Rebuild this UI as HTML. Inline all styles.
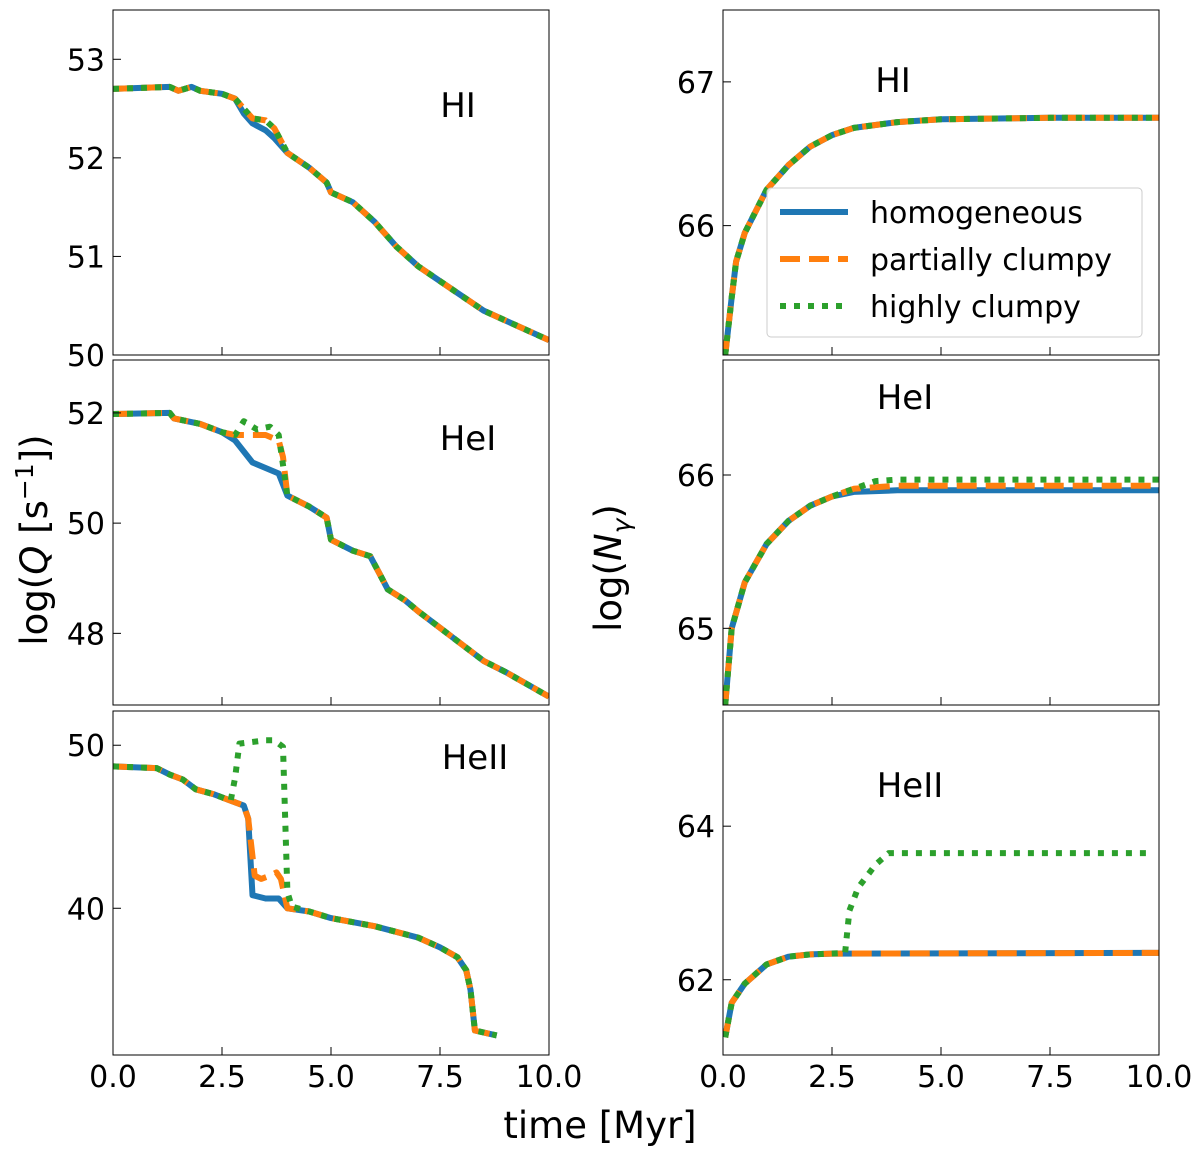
<!DOCTYPE html>
<html><head><meta charset="utf-8"><style>
body{margin:0;background:#fff}
svg text{font-family:"DejaVu Sans","Liberation Sans",sans-serif;fill:#000}
</style></head><body>
<svg id="c" width="1200" height="1157" xmlns="http://www.w3.org/2000/svg"></svg>
<script>
// ---- data ----
const hiL_h = [[0,52.7],[1.3,52.72],[1.5,52.68],[1.8,52.72],[2.0,52.68],[2.5,52.65],[2.8,52.6],[3.0,52.45],[3.2,52.35],[3.5,52.28],[3.7,52.2],[4.0,52.05],[4.5,51.9],[4.9,51.75],[5.0,51.65],[5.5,51.55],[6.0,51.35],[6.5,51.1],[7.0,50.9],[7.5,50.75],[8.0,50.6],[8.5,50.45],[9.0,50.35],[10,50.15]];
const hiL_p = [[0,52.7],[1.3,52.72],[1.5,52.68],[1.8,52.72],[2.0,52.68],[2.5,52.65],[2.8,52.6],[3.0,52.5],[3.2,52.4],[3.5,52.38],[3.7,52.3],[4.0,52.05],[4.5,51.9],[4.9,51.75],[5.0,51.65],[5.5,51.55],[6.0,51.35],[6.5,51.1],[7.0,50.9],[7.5,50.75],[8.0,50.6],[8.5,50.45],[9.0,50.35],[10,50.15]];
const hiL_c = hiL_p;
const heL_h = [[0,51.98],[1.3,52.0],[1.4,51.9],[2.0,51.8],[2.5,51.65],[2.8,51.5],[3.0,51.3],[3.2,51.1],[3.5,51.0],[3.8,50.9],[4.0,50.5],[4.5,50.3],[4.9,50.1],[5.0,49.7],[5.5,49.5],[5.9,49.4],[6.1,49.1],[6.3,48.8],[6.7,48.6],[7.0,48.4],[7.5,48.1],[8.0,47.8],[8.5,47.5],[9.0,47.3],[10,46.85]];
const heL_p = [[0,51.98],[1.3,52.0],[1.4,51.9],[2.0,51.8],[2.5,51.65],[2.8,51.6],[3.5,51.6],[3.8,51.5],[3.9,51.2],[4.0,50.5],[4.5,50.3],[4.9,50.1],[5.0,49.7],[5.5,49.5],[5.9,49.4],[6.1,49.1],[6.3,48.8],[6.7,48.6],[7.0,48.4],[7.5,48.1],[8.0,47.8],[8.5,47.5],[9.0,47.3],[10,46.85]];
const heL_c = [[0,51.98],[1.3,52.0],[1.4,51.9],[2.0,51.8],[2.5,51.65],[2.8,51.6],[3.0,51.85],[3.3,51.7],[3.6,51.75],[3.8,51.6],[4.0,50.5],[4.5,50.3],[4.9,50.1],[5.0,49.7],[5.5,49.5],[5.9,49.4],[6.1,49.1],[6.3,48.8],[6.7,48.6],[7.0,48.4],[7.5,48.1],[8.0,47.8],[8.5,47.5],[9.0,47.3],[10,46.85]];
const he2L_h = [[0,48.7],[1.0,48.6],[1.3,48.2],[1.6,47.9],[1.9,47.3],[2.3,47.0],[2.7,46.6],[3.0,46.3],[3.1,45.5],[3.2,40.8],[3.5,40.6],[3.8,40.6],[4.0,40.0],[4.5,39.8],[5.0,39.4],[6.0,38.9],[7.0,38.2],[7.5,37.6],[7.9,37.0],[8.1,36.2],[8.2,35],[8.3,32.5],[8.8,32.2]];
const he2L_p = [[0,48.7],[1.0,48.6],[1.3,48.2],[1.6,47.9],[1.9,47.3],[2.3,47.0],[2.7,46.6],[3.0,46.3],[3.1,45.5],[3.25,42],[3.4,41.8],[3.6,42],[3.75,42.2],[3.85,41.8],[4.0,40.0],[4.5,39.8],[5.0,39.4],[6.0,38.9],[7.0,38.2],[7.5,37.6],[7.9,37.0],[8.1,36.2],[8.2,35],[8.3,32.5],[8.8,32.2]];
const he2L_c = [[0,48.7],[1.0,48.6],[1.3,48.2],[1.6,47.9],[1.9,47.3],[2.3,47.0],[2.7,46.6],[2.8,48],[2.9,50.1],[3.5,50.3],[3.7,50.3],[3.9,49.9],[4.0,41],[4.1,40.1],[4.5,39.8],[5.0,39.4],[6.0,38.9],[7.0,38.2],[7.5,37.6],[7.9,37.0],[8.1,36.2],[8.2,35],[8.3,32.5],[8.8,32.2]];
const hiR_h = [[0.05,65.1],[0.2,65.5],[0.3,65.75],[0.5,65.95],[0.75,66.1],[1.0,66.25],[1.5,66.42],[2.0,66.55],[2.5,66.63],[3.0,66.68],[4.0,66.72],[5,66.74],[7.5,66.75],[10,66.75]];
const hiR_p = hiR_h, hiR_c = hiR_h;
const heR_h = [[0.05,64.5],[0.2,65.0],[0.5,65.3],[1.0,65.55],[1.5,65.7],[2.0,65.8],[2.5,65.86],[3.0,65.89],[4.0,65.9],[10,65.9]];
const heR_p = [[0.05,64.5],[0.2,65.0],[0.5,65.3],[1.0,65.55],[1.5,65.7],[2.0,65.8],[2.5,65.86],[3.0,65.91],[4.0,65.93],[10,65.93]];
const heR_c = [[0.05,64.5],[0.2,65.0],[0.5,65.3],[1.0,65.55],[1.5,65.7],[2.0,65.8],[2.5,65.86],[3.0,65.91],[3.5,65.96],[4.0,65.97],[10,65.97]];
const he2R_h = [[0.05,61.25],[0.2,61.7],[0.5,61.95],[1.0,62.2],[1.5,62.3],[2.0,62.33],[2.5,62.34],[10,62.35]];
const he2R_p = he2R_h;
const he2R_c = [[0.05,61.25],[0.2,61.7],[0.5,61.95],[1.0,62.2],[1.5,62.3],[2.0,62.33],[2.8,62.35],[2.9,62.9],[3.1,63.2],[3.5,63.5],[3.8,63.65],[9.7,63.65]];
const xTicks = [0,2.5,5,7.5,10];
const xTickLabels = ["0.0","2.5","5.0","7.5","10.0"];

const panels = [
 {name:'hi-left',x0:113,x1:549,y0:10,y1:355,ymin:50,ymax:53.5,yt:[50,51,52,53],title:'HI',tx:458,ty:105,s:[hiL_h,hiL_p,hiL_c],xl:false},
 {name:'hei-left',x0:113,x1:549,y0:360,y1:705,ymin:46.7,ymax:52.96,yt:[48,50,52],title:'HeI',tx:468,ty:438,s:[heL_h,heL_p,heL_c],xl:false},
 {name:'heii-left',x0:113,x1:549,y0:711,y1:1055,ymin:31,ymax:52.1,yt:[40,50],title:'HeII',tx:475,ty:757,s:[he2L_h,he2L_p,he2L_c],xl:true},
 {name:'hi-right',x0:723,x1:1159,y0:10,y1:355,ymin:65.1,ymax:67.5,yt:[66,67],title:'HI',tx:893,ty:80,s:[hiR_h,hiR_p,hiR_c],xl:false},
 {name:'hei-right',x0:723,x1:1159,y0:360,y1:705,ymin:64.5,ymax:66.75,yt:[65,66],title:'HeI',tx:905,ty:397,s:[heR_h,heR_p,heR_c],xl:false},
 {name:'heii-right',x0:723,x1:1159,y0:711,y1:1055,ymin:61.02,ymax:65.5,yt:[62,64],title:'HeII',tx:910,ty:785,s:[he2R_h,he2R_p,he2R_c],xl:true},
];
const styles=[
 {c:'#1f77b4',d:'',n:'homogeneous'},
 {c:'#ff7f0e',d:'20,9',n:'partially-clumpy'},
 {c:'#2ca02c',d:'6,8',n:'highly-clumpy'}];
const svg=document.getElementById('c');
const NS='http://www.w3.org/2000/svg';
function mk(t,a,p){const e=document.createElementNS(NS,t);for(const k in a)e.setAttribute(k,a[k]);(p||svg).appendChild(e);return e;}
panels.forEach(P=>{
 const g=mk('g',{});
 
 
 const sx=v=>P.x0+(v/10)*(P.x1-P.x0);
 const sy=v=>P.y1-(v-P.ymin)/(P.ymax-P.ymin)*(P.y1-P.y0);
 const cp=mk('clipPath',{id:'cl'+P.name},g);
 mk('rect',{x:P.x0,y:P.y0,width:P.x1-P.x0,height:P.y1-P.y0},cp);
 P.s.forEach((d,i)=>{
  const st=styles[i];
  const pl=mk('polyline',{points:d.map(p=>sx(p[0]).toFixed(1)+','+sy(p[1]).toFixed(1)).join(' '),fill:'none',stroke:st.c,'stroke-width':6,'stroke-linejoin':'round','stroke-dasharray':st.d,'clip-path':'url(#cl'+P.name+')'},g);
  
  
 });
 mk('rect',{x:P.x0,y:P.y0,width:P.x1-P.x0,height:P.y1-P.y0,fill:'none',stroke:'#000','stroke-width':1},g);
 xTicks.forEach((t,i)=>{
  mk('line',{x1:sx(t),x2:sx(t),y1:P.y1,y2:P.y1-8,stroke:'#000','stroke-width':1},g);
  if(P.xl){const tx=mk('text',{x:sx(t),y:P.y1+32,'font-size':30,'text-anchor':'middle'},g);tx.textContent=xTickLabels[i];
   }
 });
 P.yt.forEach(t=>{
  mk('line',{x1:P.x0,x2:P.x0+8,y1:sy(t),y2:sy(t),stroke:'#000','stroke-width':1},g);
  const tx=mk('text',{x:P.x0-8,y:sy(t)+11,'font-size':30,'text-anchor':'end'},g);tx.textContent=t;
  
 });
 const tt=mk('text',{x:P.tx,y:P.ty+12,'font-size':34,'text-anchor':'middle'},g);tt.textContent=P.title;
 
});
// legend
const lg=mk('g',{});


mk('rect',{x:767,y:188,width:375,height:149,rx:4,fill:'#fff','fill-opacity':0.85,stroke:'#ccc','stroke-width':1},lg);
['homogeneous','partially clumpy','highly clumpy'].forEach((n,i)=>{
 const y=212+i*47;
 mk('line',{x1:780,x2:848,y1:y,y2:y,stroke:styles[i].c,'stroke-width':6,'stroke-dasharray':styles[i].d},lg);
 const t=mk('text',{x:870,y:y+11,'font-size':30},lg);t.textContent=n;
 
});
const xl=mk('text',{x:600,y:1138,'font-size':37,'text-anchor':'middle'});xl.textContent='time [Myr]';

const yl=mk('text',{x:0,y:0,'font-size':37,'text-anchor':'middle',transform:'translate(47,540) rotate(-90)'});
yl.innerHTML='log(<tspan font-style="italic">Q</tspan> [s<tspan dy="-14" font-size="25">−1</tspan><tspan dy="14">])</tspan>';

const yr=mk('text',{x:0,y:0,'font-size':37,'text-anchor':'middle',transform:'translate(621,568) rotate(-90)'});
yr.innerHTML='log(<tspan font-style="italic">N</tspan><tspan dy="9" font-size="25" font-style="italic">γ</tspan><tspan dy="-9">)</tspan>';

</script>
</body></html>
